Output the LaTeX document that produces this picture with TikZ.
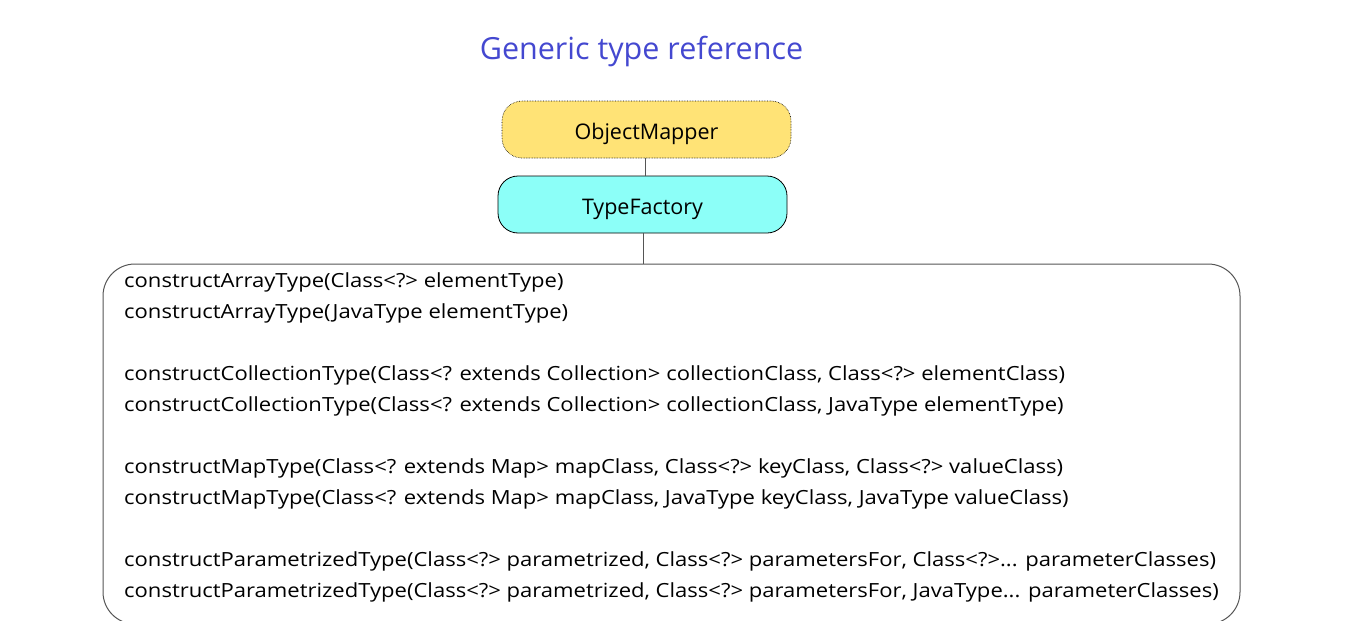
\documentclass[tikz,border=0pt]{standalone}
\usepackage{fontspec}
\setmainfont{Open Sans}
\newfontfamily\methodfont[FakeStretch=1.13]{Open Sans}
\definecolor{titleblue}{RGB}{68,72,208}
\definecolor{omyellow}{RGB}{255,227,118}
\definecolor{tfcyan}{RGB}{140,255,248}
\definecolor{linegray}{RGB}{85,85,85}
\begin{document}
\begin{tikzpicture}[x=1pt,y=-1pt,
  pill/.style={rounded corners=20pt, minimum width=289pt, minimum height=57pt, inner sep=0pt, text height=20pt, text depth=0pt, font=\fontsize{21.5}{24}\selectfont},
  method/.style={anchor=base west, inner sep=0pt, font=\methodfont\fontsize{19.5}{24}\selectfont},
  conn/.style={draw=linegray, line width=1pt}]
\useasboundingbox (0,0) rectangle (1350,629);
\clip (0,0) rectangle (1350,620.5);
\node[anchor=base, inner sep=0pt, text=titleblue, font=\fontsize{30.5}{34}\selectfont] (title) at (641.5,59) {Generic type reference};
\node[pill, fill=omyellow, draw=black, densely dotted, line width=0.6pt] (om) at (646.5,129.5) {ObjectMapper};
\node[pill, fill=tfcyan, draw=black, line width=0.8pt] (tf) at (642.5,204.5) {TypeFactory};
\node[draw=linegray, line width=1pt, rounded corners=32pt, minimum width=1137pt, minimum height=360pt, inner sep=0pt] (box) at (671.5,444) {};
\draw[conn] (om.south -| 645,0) -- (tf.north -| 645,0);
\draw[conn] (tf.south -| 643,0) -- (box.north -| 643,0);
\node[method] (m1) at (124,287.5) {constructArrayType(Class<?> elementType)};
\node[method] (m2) at (124,318.5) {constructArrayType(JavaType elementType)};
\node[method] (m3) at (124,380.5) {constructCollectionType(Class<? extends Collection> collectionClass, Class<?> elementClass)};
\node[method] (m4) at (124,411.5) {constructCollectionType(Class<? extends Collection> collectionClass, JavaType elementType)};
\node[method] (m5) at (124,473.5) {constructMapType(Class<? extends Map> mapClass, Class<?> keyClass, Class<?> valueClass)};
\node[method] (m6) at (124,504.5) {constructMapType(Class<? extends Map> mapClass, JavaType keyClass, JavaType valueClass)};
\node[method] (m7) at (124,566.5) {constructParametrizedType(Class<?> parametrized, Class<?> parametersFor, Class<?>... parameterClasses)};
\node[method] (m8) at (124,597.5) {constructParametrizedType(Class<?> parametrized, Class<?> parametersFor, JavaType... parameterClasses)};
\end{tikzpicture}
\end{document}
